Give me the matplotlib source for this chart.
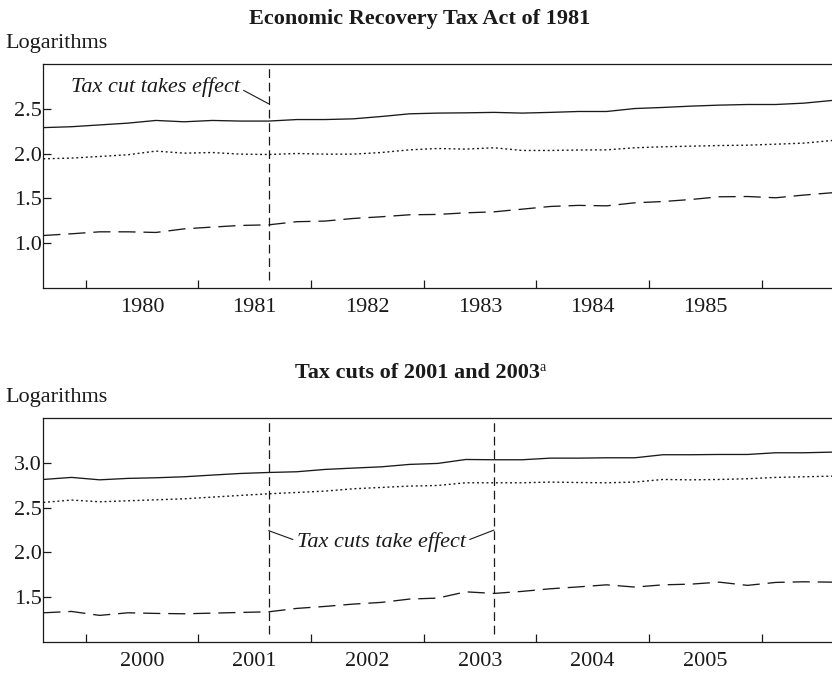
import matplotlib
matplotlib.use('Agg')
import matplotlib.pyplot as plt
import numpy as np

plt.rcParams['font.family'] = ['Liberation Serif', 'DejaVu Serif']

# quarterly values, 8 quarters before the cut to 20 quarters after
erta_solid = [2.29, 2.30, 2.32, 2.34, 2.37, 2.355, 2.37, 2.363, 2.363, 2.38,
              2.38, 2.388, 2.414, 2.444, 2.452, 2.455, 2.46, 2.452, 2.46, 2.47,
              2.47, 2.503, 2.515, 2.53, 2.541, 2.548, 2.548, 2.563, 2.593]
erta_dotted = [1.942, 1.95, 1.968, 1.987, 2.028, 2.005, 2.012, 1.994, 1.99, 2.001,
               1.994, 1.994, 2.012, 2.042, 2.057, 2.05, 2.065, 2.035, 2.035, 2.04,
               2.042, 2.065, 2.076, 2.083, 2.09, 2.094, 2.105, 2.117, 2.146]
erta_dashed = [1.086, 1.105, 1.127, 1.127, 1.12, 1.16, 1.18, 1.198, 1.205, 1.24,
               1.247, 1.276, 1.295, 1.317, 1.321, 1.339, 1.35, 1.38, 1.41, 1.422,
               1.417, 1.451, 1.465, 1.488, 1.518, 1.521, 1.507, 1.537, 1.563]

jg_solid = [2.814, 2.837, 2.81, 2.826, 2.833, 2.844, 2.863, 2.881, 2.892, 2.9,
            2.926, 2.941, 2.955, 2.982, 2.993, 3.037, 3.034, 3.034, 3.052, 3.052,
            3.056, 3.056, 3.09, 3.09, 3.093, 3.093, 3.112, 3.112, 3.119]
jg_dotted = [2.558, 2.584, 2.565, 2.576, 2.587, 2.598, 2.617, 2.636, 2.654, 2.669,
             2.684, 2.71, 2.725, 2.74, 2.747, 2.777, 2.777, 2.777, 2.785, 2.78,
             2.777, 2.785, 2.814, 2.81, 2.814, 2.822, 2.837, 2.844, 2.851]
jg_dashed = [1.326, 1.341, 1.297, 1.326, 1.319, 1.315, 1.322, 1.33, 1.337, 1.375,
             1.397, 1.423, 1.442, 1.479, 1.49, 1.56, 1.542, 1.565, 1.594, 1.615,
             1.638, 1.613, 1.638, 1.646, 1.668, 1.632, 1.665, 1.672, 1.668]

erta_years = [1980, 1981, 1982, 1983, 1984, 1985]
jg_years = [2000, 2001, 2002, 2003, 2004, 2005]
erta_events = [8]        # quarter index of the cut
jg_events = [8, 16]

INK = '#1a1a1a'
FS = 16


def draw_panel(ax, solid, dotted, dashed, years, events, ylim, yticks):
    q = np.arange(len(solid))
    ax.plot(q, solid, color=INK, lw=0.95)
    ax.plot(q, dotted, color=INK, lw=1.0, ls=(0, (1.4, 2.0)))
    ax.plot(q, dashed, color=INK, lw=0.95, ls=(0, (13, 6)))
    for e in events:
        ax.axvline(e, ymin=0.036, ymax=1, color=INK, lw=0.9, ls=(0, (7, 3.8)))

    ax.set_xlim(0, len(solid) - 1)
    ax.set_ylim(*ylim)
    # year boundaries as ticks, year labels centred between them
    ax.set_xticks([1.5 + 4 * k for k in range(len(years) + 1)])
    ax.set_xticklabels([])
    ax.set_xticks([3.5 + 4 * k for k in range(len(years))], minor=True)
    ax.set_xticklabels([str(y) for y in years], minor=True)
    ax.set_yticks(yticks)
    ax.set_yticklabels(['%.1f' % v for v in yticks])
    ax.tick_params(axis='both', which='major', direction='in', length=6,
                   width=0.9, color=INK, labelsize=FS, labelcolor=INK)
    ax.tick_params(axis='x', which='minor', length=0, pad=7,
                   labelsize=FS, labelcolor=INK)
    ax.tick_params(axis='y', pad=1)
    for s in ax.spines.values():
        s.set_linewidth(0.9)
        s.set_color(INK)
    ax.spines['right'].set_visible(False)


fig = plt.figure(figsize=(8.32, 6.74), dpi=100)
W, H = 832.0, 674.0
ax1 = fig.add_axes([43.3 / W, 1 - 288 / H, (832 - 43.3) / W, 224 / H])
ax2 = fig.add_axes([43.3 / W, 1 - 642 / H, (832 - 43.3) / W, 224 / H])

draw_panel(ax1, erta_solid, erta_dotted, erta_dashed, erta_years, erta_events,
           (0.5, 3.0), [1.0, 1.5, 2.0, 2.5])
draw_panel(ax2, jg_solid, jg_dotted, jg_dashed, jg_years, jg_events,
           (1.0, 3.5), [1.5, 2.0, 2.5, 3.0])

# titles and unit labels
fig.text(420 / W, 1 - 24 / H, 'Economic Recovery Tax Act of 1981', ha='center',
         va='baseline', fontsize=FS, fontweight='bold', color=INK)
t2 = fig.text(417 / W, 1 - 378 / H, 'Tax cuts of 2001 and 2003', ha='center',
              va='baseline', fontsize=FS, fontweight='bold', color=INK)
ax2.annotate('a', xy=(1, 1.08), xycoords=t2, ha='left', va='top',
             fontsize=10, color=INK, annotation_clip=False)
fig.text(5 / W, 1 - 48 / H, 'Logarithms', ha='left', va='baseline',
         fontsize=FS, color=INK)
fig.text(5 / W, 1 - 402 / H, 'Logarithms', ha='left', va='baseline',
         fontsize=FS, color=INK)

# event notes
n1 = ax1.text(6.98, 2.69, 'Tax cut takes effect', ha='right', va='baseline',
              fontsize=FS, fontstyle='italic', color=INK)
ax1.annotate('', xy=(erta_events[0], 2.556), xytext=(1, 0.42), textcoords=n1,
             arrowprops=dict(arrowstyle='-', color=INK, lw=0.8,
                             shrinkA=3, shrinkB=0))

n2 = ax2.text(12, 2.059, 'Tax cuts take effect', ha='center', va='baseline',
              fontsize=FS, fontstyle='italic', color=INK)
ax2.annotate('', xy=(jg_events[0], 2.243), xytext=(0, 0.56), textcoords=n2,
             arrowprops=dict(arrowstyle='-', color=INK, lw=0.8,
                             shrinkA=3, shrinkB=0))
ax2.annotate('', xy=(jg_events[1], 2.249), xytext=(1, 0.56), textcoords=n2,
             arrowprops=dict(arrowstyle='-', color=INK, lw=0.8,
                             shrinkA=3, shrinkB=0))

fig.savefig('out.png', dpi=100)
